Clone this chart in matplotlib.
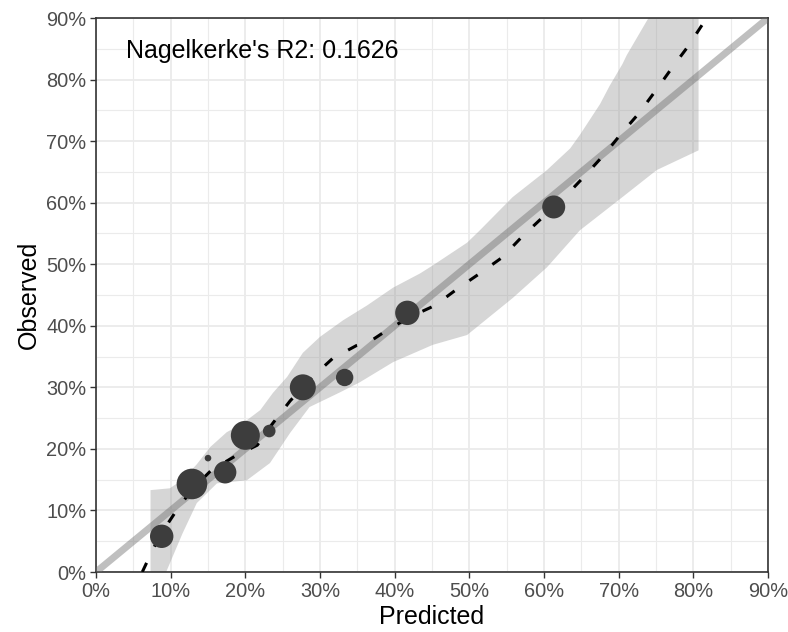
import matplotlib
matplotlib.use("Agg")
import matplotlib.pyplot as plt
from matplotlib.ticker import MultipleLocator, FuncFormatter

plt.rcParams['font.family'] = ['Liberation Sans', 'DejaVu Sans']

# grouped observations (predicted %, observed %, marker radius in px)
pred = [8.8, 12.85, 15.0, 17.3, 20.0, 23.2, 27.7, 33.3, 41.7, 61.3]
obs = [5.8, 14.3, 18.5, 16.2, 22.2, 22.9, 30.0, 31.6, 42.1, 59.3]
radius = [11.7, 15.3, 3.3, 11.2, 14.5, 6.3, 13.0, 8.7, 12.2, 11.5]

# smoothed calibration curve
curve_x = [6.2, 7.4, 8.6, 11.0, 13.0, 15.5, 18.9, 21.6, 23.7, 26.0, 29.0, 31.7,
           34.9, 36.5, 39.0, 42.0, 45.4, 48.5, 51.4, 54.4, 57.0, 59.8, 63.0,
           65.5, 68.2, 70.4, 72.7, 75.2, 77.2, 79.3, 81.3, 81.8]
curve_y = [0.0, 3.1, 6.0, 10.4, 13.6, 16.6, 19.0, 20.6, 24.2, 27.8, 31.7, 34.7,
           36.8, 37.3, 39.3, 41.4, 43.3, 46.1, 48.5, 51.1, 54.4, 57.6, 61.2,
           64.4, 68.0, 71.3, 74.5, 78.6, 82.0, 85.4, 89.1, 90.5]

# confidence band of the curve: upper and lower edges
up_x = [7.3, 9.9, 11.6, 13.5, 15.3, 17.5, 19.7, 22.0, 23.7, 25.6, 27.7, 30.0,
        33.1, 36.3, 39.8, 43.4, 45.1, 49.7, 51.4, 55.8, 60.4, 63.5, 64.8, 67.5,
        68.8, 70.5, 71.1, 73.8, 75.1, 80.7]
up_y = [13.3, 13.6, 15.0, 17.5, 20.3, 22.7, 24.2, 26.3, 29.1, 31.7, 35.6, 38.2,
        40.9, 43.3, 46.2, 48.5, 49.8, 53.5, 55.5, 60.9, 65.3, 68.8, 71.0, 76.0,
        79.0, 82.5, 84.0, 89.6, 92.0, 100.0]
lo_x = [7.3, 9.5, 11.6, 13.5, 16.2, 20.2, 23.3, 26.0, 28.6, 32.7, 35.3, 39.8,
        45.1, 49.7, 55.8, 60.4, 64.8, 70.5, 75.1, 80.7]
lo_y = [-8.0, 0.3, 6.3, 11.2, 14.4, 14.9, 17.7, 22.6, 26.8, 29.2, 30.8, 34.1,
        36.9, 38.5, 44.5, 49.5, 55.5, 60.9, 65.3, 68.5]

ticks = list(range(0, 91, 10))

fig = plt.figure(figsize=(7.88, 6.32), dpi=100)
ax = fig.add_axes([96/788, 60/632, 672/788, 554/632])

ax.fill(up_x + lo_x[::-1], up_y + lo_y[::-1], color='#999999', alpha=0.4, lw=0, zorder=2)
ax.plot([0, 90], [0, 90], color='#6e6e6e', alpha=0.44, lw=5, solid_capstyle='butt', zorder=3)
ax.plot(curve_x, curve_y, color='black', lw=2.2, linestyle=(0, (3.3, 5.9)),
        dash_capstyle='butt', zorder=4)
ax.scatter(pred, obs, s=[(1.44*r)**2 for r in radius], color='#3d3d3d', lw=0, zorder=5)

ax.text(4.0, 84.7, "Nagelkerke's R2: 0.1626", fontsize=18, ha='left', va='center', zorder=6)

ax.set_xlim(0, 90)
ax.set_ylim(0, 90)
ax.set_xticks(ticks)
ax.set_yticks(ticks)
ax.xaxis.set_minor_locator(MultipleLocator(5))
ax.yaxis.set_minor_locator(MultipleLocator(5))
pct = FuncFormatter(lambda v, p: f'{v:.0f}%')
ax.xaxis.set_major_formatter(pct)
ax.yaxis.set_major_formatter(pct)

ax.grid(which='major', color='#ebebeb', lw=1.3, zorder=0)
ax.grid(which='minor', color='#ebebeb', lw=0.8, zorder=0)
ax.set_axisbelow(True)
ax.tick_params(which='major', length=4, width=1, color='#333333',
               labelsize=14.4, labelcolor='#4d4d4d', pad=3)
ax.tick_params(which='minor', length=0)
for s in ax.spines.values():
    s.set_color('#333333')
    s.set_linewidth(1.2)

ax.set_xlabel('Predicted', fontsize=18, labelpad=3)
ax.set_ylabel('Observed', fontsize=18, labelpad=4)

fig.savefig('out.png', dpi=100)
